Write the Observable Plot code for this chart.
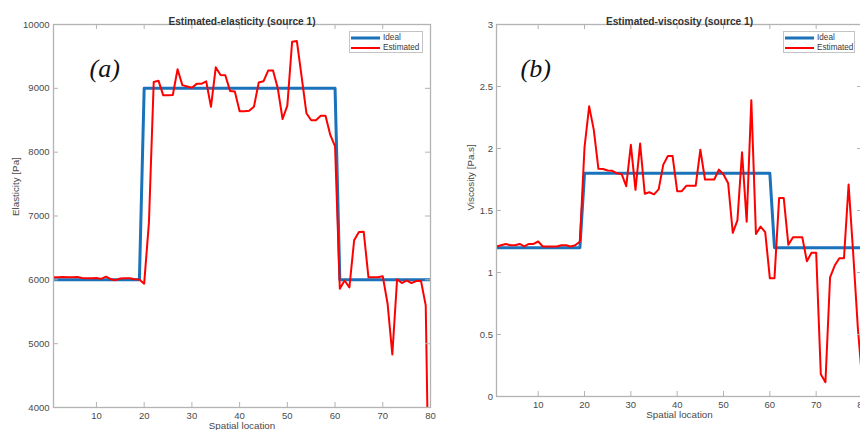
<!DOCTYPE html>
<html><head><meta charset="utf-8">
<script src="https://cdn.jsdelivr.net/npm/d3@7"></script>
<script src="https://cdn.jsdelivr.net/npm/@observablehq/plot@0.6"></script>
<style>
html,body{margin:0;padding:0;background:#fff;overflow:hidden;}
#wrap{position:relative;width:860px;height:430px;overflow:hidden;font-family:"Liberation Sans",Arial,sans-serif;background:#fff;}
.panel{position:absolute;top:0;}
.panel svg{max-width:none !important;}
.legend{position:absolute;box-sizing:border-box;background:#fff;border:1px solid #c4c4c4;font-size:8.2px;color:#3a3a3a;}
.legend .row{position:absolute;left:0;height:10px;line-height:10px;white-space:nowrap;}
.legend svg{position:absolute;left:0;top:0;}
.legend span{position:absolute;top:0;}
</style></head><body><div id="wrap"></div>
<script>
// ---- data ----
const positions = [1,2,3,4,5,6,7,8,9,10,11,12,13,14,15,16,17,18,19,20,21,22,23,24,25,26,27,28,29,30,31,32,33,34,35,36,37,38,39,40,41,42,43,44,45,46,47,48,49,50,51,52,53,54,55,56,57,58,59,60,61,62,63,64,65,66,67,68,69,70,71,72,73,74,75,76,77,78,79,80];

// x = 1..19
const elasticityIdeal = [6000,6000,6000,6000,6000,6000,6000,6000,6000,6000,6000,6000,6000,6000,6000,6000,6000,6000,6000,
  // x = 20..60
  9000,9000,9000,9000,9000,9000,9000,9000,9000,9000,
  9000,9000,9000,9000,9000,9000,9000,9000,9000,9000,
  9000,9000,9000,9000,9000,9000,9000,9000,9000,9000,
  9000,9000,9000,9000,9000,9000,9000,9000,9000,9000,
  9000,
  // x = 61..80
  6000,6000,6000,6000,6000,6000,6000,6000,6000,6000,
  6000,6000,6000,6000,6000,6000,6000,6000,6000,6000];

const elasticityEstimated = [6040,6040,6045,6040,6040,6045,6030,6025,6025,6030,6015,6050,6010,5995,6020,6025,6025,6010,6005,
  5940,6900,9100,9120,8890,8890,8895,9300,9050,9030,9010,
  9070,9070,9110,8710,9330,9210,9205,8960,8950,8640,
  8640,8650,8710,9090,9110,9280,9280,9000,8520,8730,
  9730,9740,9180,8610,8500,8500,8570,8570,8270,8090,
  5860,5990,5880,6620,6750,6755,6040,6040,6040,6055,
  5630,4830,6010,5950,5990,5950,5980,5985,5600,900];

const viscosityIdeal = [1.2,1.2,1.2,1.2,1.2,1.2,1.2,1.2,1.2,1.2,1.2,1.2,1.2,1.2,1.2,1.2,1.2,1.2,1.2,
  1.8,1.8,1.8,1.8,1.8,1.8,1.8,1.8,1.8,1.8,
  1.8,1.8,1.8,1.8,1.8,1.8,1.8,1.8,1.8,1.8,
  1.8,1.8,1.8,1.8,1.8,1.8,1.8,1.8,1.8,1.8,
  1.8,1.8,1.8,1.8,1.8,1.8,1.8,1.8,1.8,1.8,
  1.8,
  1.2,1.2,1.2,1.2,1.2,1.2,1.2,1.2,1.2,1.2,
  1.2,1.2,1.2,1.2,1.2,1.2,1.2,1.2,1.2,1.2];

const viscosityEstimated = [1.21,1.22,1.23,1.22,1.22,1.23,1.21,1.23,1.23,1.25,1.21,1.21,1.21,1.21,1.22,1.22,1.21,1.22,1.25,
  2.01,2.34,2.15,1.836,1.835,1.823,1.82,1.80,1.795,1.696,2.03,
  1.667,2.04,1.635,1.647,1.63,1.67,1.87,1.94,1.94,1.656,
  1.656,1.70,1.70,1.70,1.99,1.75,1.75,1.75,1.83,1.79,
  1.72,1.32,1.42,1.97,1.41,2.39,1.31,1.37,1.325,0.954,
  0.954,1.60,1.60,1.223,1.285,1.285,1.285,1.09,1.16,1.16,
  0.18,0.115,0.96,1.056,1.115,1.115,1.71,1.15,0.55,0.1];

const xTicks = [10,20,30,40,50,60,70,80];
const elasticityTicks = [4000,5000,6000,7000,8000,9000,10000];
const viscosityTicks = [0,0.5,1,1.5,2,2.5,3];
const seriesNames = ["Ideal","Estimated"];

// ---- styles ----
const BLUE = "#1a72bb", RED = "#ff0000", AXIS = "#b3b3b3", TXT = "#4a4a4a";
const FONT = "'Liberation Sans', Arial, sans-serif";

function panel(o){
  const data = positions.map((p,i)=>({p, ideal:o.ideal[i], est:o.est[i]}));
  const plotH = 430 - o.mT - o.mB, plotW = o.width - o.mL - o.mR;
  const chart = Plot.plot({
    width:o.width, height:430,
    marginLeft:o.mL, marginRight:o.mR, marginTop:o.mT, marginBottom:o.mB,
    style:{background:"transparent", overflow:"visible", fontFamily:FONT, fontSize:"9.5px", color:TXT, maxWidth:"none"},
    x:{domain:[1,80]},
    y:{domain:o.yDomain},
    marks:[
      Plot.line(data,{x:"p", y:"ideal", stroke:BLUE, strokeWidth:3, clip:true}),
      Plot.line(data,{x:"p", y:"est", stroke:RED, strokeWidth:2, clip:true}),
      Plot.frame({stroke:AXIS, strokeWidth:1.3}),
      Plot.tickX(xTicks,{x:d=>d, insetTop:plotH-5, stroke:AXIS}),
      Plot.tickX(xTicks,{x:d=>d, insetBottom:plotH-5, stroke:AXIS}),
      Plot.tickY(o.yTicks,{y:d=>d, insetRight:plotW-5, stroke:AXIS}),
      Plot.tickY(o.yTicks,{y:d=>d, insetLeft:plotW-5, stroke:AXIS}),
      Plot.axisX(xTicks,{tickSize:0, tickPadding:5, label:null, fill:TXT}),
      Plot.axisY(o.yTicks,{tickSize:0, tickPadding:o.yPad, label:null, fill:TXT, tickFormat:o.yFmt}),
      Plot.text([o.title],{frameAnchor:"top", dy:-7, fontWeight:"bold", fontSize:10.2, fill:"#333"}),
      Plot.text([o.xlabel],{frameAnchor:"bottom", dy:o.xlDy, fontSize:9.8, fill:TXT}),
      Plot.text([o.ylabel],{frameAnchor:"left", dx:o.ylDx, rotate:-90, fontSize:9.8, fill:TXT}),
      Plot.text([o.tag],{frameAnchor:"top-left", dx:o.tagDx, dy:34, textAnchor:"start", fontFamily:"'Liberation Serif', 'Times New Roman', serif", fontStyle:"italic", fontSize:26, fill:"#111"})
    ]
  });
  const div = document.createElement("div");
  div.className = "panel";
  div.style.left = o.left + "px";
  div.style.width = o.width + "px";
  div.appendChild(chart);
  document.getElementById("wrap").appendChild(div);

  // legend
  const lg = document.createElement("div");
  lg.className = "legend";
  const lgW = o.lgW, lgRight = o.left + o.width - o.mR - 7;
  lg.style.left = (lgRight - lgW) + "px";
  lg.style.top = "31px";
  lg.style.width = lgW + "px";
  lg.style.height = "22px";
  const cols = [BLUE, RED], widths = [3, 2];
  seriesNames.forEach((name,i)=>{
    const row = document.createElement("div");
    row.className = "row";
    row.style.top = (1 + i*10) + "px";
    row.innerHTML = `<svg width="32" height="10"><line x1="1" x2="30" y1="5" y2="5" stroke="${cols[i]}" stroke-width="${widths[i]}"/></svg><span style="left:33px">${name}</span>`;
    lg.appendChild(row);
  });
  document.getElementById("wrap").appendChild(lg);
}

panel({left:0, width:432, mL:53, mR:2, mT:24, mB:23,
  yDomain:[4000,10000], yTicks:elasticityTicks, yPad:4, yFmt:d=>String(d),
  ideal:elasticityIdeal, est:elasticityEstimated,
  title:"Estimated-elasticity (source 1)", xlabel:"Spatial location", ylabel:"Elasticity [Pa]",
  xlDy:21, ylDx:-38, tag:"(a)", tagDx:36, lgW:74});

panel({left:430, width:436, mL:66, mR:4, mT:24, mB:34,
  yDomain:[0,3], yTicks:viscosityTicks, yPad:3.5, yFmt:d=>String(d),
  ideal:viscosityIdeal, est:viscosityEstimated,
  title:"Estimated-viscosity (source 1)", xlabel:"Spatial location", ylabel:"Viscosity [Pa.s]",
  xlDy:21.5, ylDx:-26, tag:"(b)", tagDx:24, lgW:72});
</script></body></html>
